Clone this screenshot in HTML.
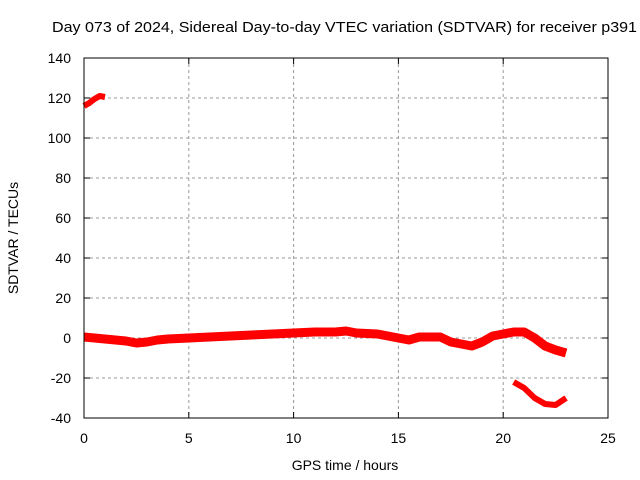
<!DOCTYPE html>
<html><head><meta charset="utf-8"><style>
body{margin:0;background:#fff}
svg{display:block;font-family:"Liberation Sans",sans-serif;font-size:14px}
</style></head><body>
<svg width="640" height="480">
<text x="52" y="32" textLength="585" lengthAdjust="spacingAndGlyphs" style="font-size:15px">Day 073 of 2024, Sidereal Day-to-day VTEC variation (SDTVAR) for receiver p391</text>
<g id="grid"></g>
<g id="ticks"></g>
<g id="series"></g>
<rect x="84" y="58" width="524" height="360" fill="none" stroke="#000"/>
<text x="345" y="470" text-anchor="middle">GPS time / hours</text>
<text transform="translate(18,238) rotate(-90)" text-anchor="middle">SDTVAR / TECUs</text>
</svg>
<script>
const xTicks=[0,5,10,15,20,25];
const yTicks=[-40,-20,0,20,40,60,80,100,120,140];
const earlyT=[0,0.25,0.5,0.75,1];
const earlyV=[116,117.5,119.5,121,120.5];
const mainT=[0,0.5,1,1.5,2,2.5,3,3.5,4,5,6,7,8,9,10,11,12,12.5,13,14,15,15.5,16,17,17.5,18,18.5,19,19.5,20,20.5,21,21.5,22,22.5,23];
const mainV=[0.5,0,-0.5,-1,-1.5,-2.5,-2,-1,-0.5,0,0.5,1,1.5,2,2.5,3,3,3.5,2.5,2,0,-1,0.5,0.5,-2,-3,-4,-2,1,2,3,3,0,-4,-6,-7.5];
const lowT=[20.5,21,21.5,22,22.5,23];
const lowV=[-22,-25,-30,-33,-33.5,-30];
const X=t=>84+t*524/25, Y=v=>338-v*2;
const NS="http://www.w3.org/2000/svg";
const mk=(p,tag,a)=>{const e=document.createElementNS(NS,tag);for(const k in a)e.setAttribute(k,a[k]);p.appendChild(e);return e;};
const g=document.getElementById('grid'),tk=document.getElementById('ticks'),s=document.getElementById('series');
xTicks.forEach(t=>{
 if(t>0&&t<25){const l=mk(g,'line',{x1:X(t),x2:X(t),y1:58,y2:418,stroke:'#999','stroke-dasharray':'3,3'});
 
 }
 mk(tk,'line',{x1:X(t),x2:X(t),y1:418,y2:412,stroke:'#000'});
 mk(tk,'line',{x1:X(t),x2:X(t),y1:58,y2:64,stroke:'#000'});
 const tx=mk(tk,'text',{x:X(t),y:443,'text-anchor':'middle'});tx.textContent=t;
 
 
});
yTicks.forEach(v=>{
 if(v>-40&&v<140){const l=mk(g,'line',{x1:84,x2:608,y1:Y(v),y2:Y(v),stroke:'#999','stroke-dasharray':'3,3'});
 
 }
 mk(tk,'line',{x1:84,x2:90,y1:Y(v),y2:Y(v),stroke:'#000'});
 mk(tk,'line',{x1:602,x2:608,y1:Y(v),y2:Y(v),stroke:'#000'});
 const tx=mk(tk,'text',{x:71,y:Y(v)+5,'text-anchor':'end'});tx.textContent=v;
 
 
});
function line(T,V,w,name){
 const p=mk(s,'polyline',{points:T.map((t,i)=>X(t)+','+Y(V[i])).join(' '),fill:'none',stroke:'#f00','stroke-width':w,'stroke-linejoin':'round'});
 
 
}
line(earlyT,earlyV,6,'series-early');
line(mainT,mainV,9,'series-main');
line(lowT,lowV,6,'series-low');
</script>
</body></html>
